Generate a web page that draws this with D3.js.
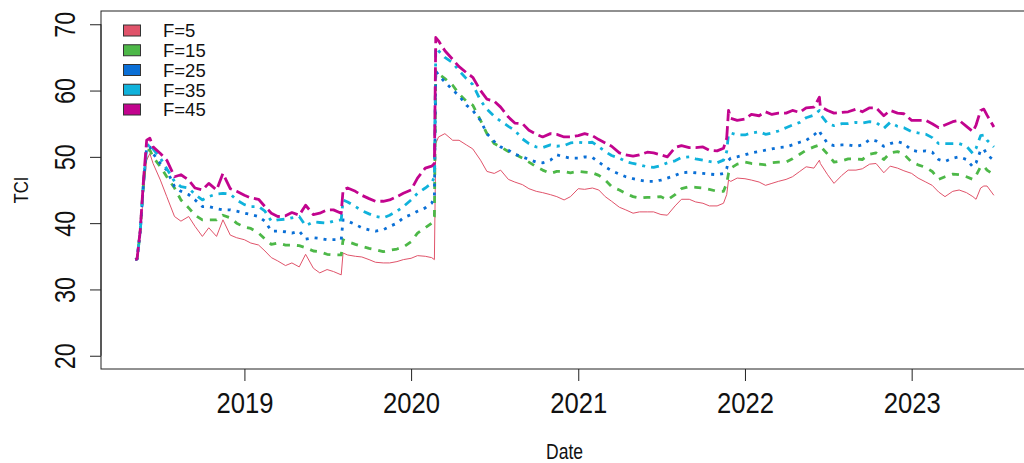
<!DOCTYPE html>
<html>
<head>
<meta charset="utf-8">
<script src="https://cdn.jsdelivr.net/npm/d3@7"></script>
<style>
  html, body { margin: 0; padding: 0; background: #fff; }
  svg { display: block; }
  text { font-family: "Liberation Sans", Arial, sans-serif; fill: #111; }
</style>
</head>
<body>
<script>
// 数据：日期（按半月采样，外加跳变日）
const dates = [
  '2018-05-07','2018-05-11','2018-05-18','2018-05-25','2018-06-01','2018-06-08','2018-06-15','2018-07-01','2018-07-15',
  '2018-08-01','2018-08-15','2018-09-01','2018-09-15','2018-10-01','2018-10-15','2018-11-01','2018-11-15','2018-12-01','2018-12-15',
  '2019-01-01','2019-01-15','2019-02-01','2019-02-15','2019-03-01','2019-03-15','2019-04-01','2019-04-15','2019-05-01','2019-05-15',
  '2019-06-01','2019-06-15','2019-07-01','2019-07-15','2019-08-01','2019-08-05','2019-08-15','2019-09-01','2019-09-15','2019-10-01',
  '2019-10-15','2019-11-01','2019-11-15','2019-12-01','2019-12-15',
  '2020-01-01','2020-01-15','2020-02-01','2020-02-15','2020-02-21','2020-02-24','2020-03-01','2020-03-15','2020-04-01','2020-04-15',
  '2020-05-01','2020-05-15','2020-06-01','2020-06-15','2020-07-01','2020-07-15','2020-08-01','2020-08-15','2020-09-01','2020-09-15',
  '2020-10-01','2020-10-15','2020-11-01','2020-11-15','2020-12-01','2020-12-15',
  '2021-01-01','2021-01-15','2021-02-01','2021-02-15','2021-03-01','2021-03-15','2021-04-01','2021-04-15','2021-05-01','2021-05-15',
  '2021-06-01','2021-06-15','2021-07-01','2021-07-15','2021-08-01','2021-08-15','2021-09-01','2021-09-15','2021-10-01','2021-10-15',
  '2021-11-01','2021-11-15','2021-11-22','2021-11-26','2021-12-01','2021-12-15',
  '2022-01-01','2022-01-15','2022-02-01','2022-02-15','2022-03-01','2022-03-15','2022-04-01','2022-04-15','2022-05-01','2022-05-15',
  '2022-06-01','2022-06-13','2022-06-15','2022-07-01','2022-07-15','2022-08-01','2022-08-15','2022-09-01','2022-09-15','2022-10-01',
  '2022-10-15','2022-11-01','2022-11-15','2022-12-01','2022-12-15',
  '2023-01-01','2023-01-15','2023-02-01','2023-02-15','2023-03-01','2023-03-15','2023-04-01','2023-04-15','2023-05-01','2023-05-15',
  '2023-05-22','2023-06-01','2023-06-08','2023-06-15','2023-06-30'
];

// 各预测期 F 的 TCI 数值
const tciF5 = [
  34.5,34.6,38.5,44.5,49.5,50.5,49.0,46.5,44.0,
  41.0,40.3,41.0,39.5,38.0,39.3,38.0,40.5,38.2,37.8,
  37.5,37.0,36.7,35.8,34.8,34.3,33.6,34.0,33.4,35.3,
  33.2,32.5,33.0,32.7,32.2,35.5,35.2,35.0,34.9,34.5,
  34.1,34.0,34.0,34.2,34.5,
  34.7,35.1,35.0,34.8,34.5,52.0,53.0,53.5,52.5,52.5,
  51.8,51.2,49.5,47.8,47.5,48.0,46.6,46.2,45.8,45.2,
  44.8,44.6,44.3,44.0,43.5,44.0,
  45.2,45.1,45.3,45.0,44.0,43.3,42.4,42.0,41.5,41.7,
  41.7,41.7,41.3,41.2,42.6,43.6,43.6,43.2,43.0,42.6,
  42.6,43.0,44.3,46.5,46.3,46.8,
  46.7,46.5,46.2,45.7,46.0,46.3,46.6,47.0,47.8,48.5,
  48.3,49.5,49.0,47.3,46.0,47.2,48.0,48.0,48.2,48.9,
  49.0,47.6,48.6,48.3,47.9,
  47.5,46.8,46.2,45.7,44.7,44.0,44.8,45.0,44.6,44.0,
  43.6,45.3,45.6,45.6,44.2
];
const tciF15 = [
  34.5,34.6,38.8,46.0,51.0,51.0,50.0,48.5,47.0,
  45.3,43.5,42.3,41.2,40.5,40.5,40.5,41.2,40.8,40.0,
  39.4,39.2,38.5,37.6,36.8,37.0,36.7,36.7,36.6,36.3,
  35.8,35.7,35.3,35.2,35.2,37.5,37.2,36.8,36.5,36.2,
  36.0,35.7,35.9,36.1,36.4,
  37.2,38.5,39.3,40.0,41.0,63.0,62.5,61.8,60.8,59.5,
  58.4,57.8,55.5,53.5,52.0,51.5,50.8,50.4,49.8,49.2,
  48.5,48.0,47.5,47.8,47.8,47.6,
  47.8,47.7,47.6,47.2,46.5,45.5,45.0,44.5,44.0,43.8,
  43.9,43.9,44.0,43.5,44.3,45.2,45.5,45.4,45.3,45.1,
  44.8,44.8,46.0,47.5,48.3,48.9,
  49.2,49.0,48.9,48.8,49.1,49.2,49.2,49.7,50.4,51.0,
  51.5,51.8,51.6,50.4,49.2,49.4,49.7,49.7,49.6,50.4,
  50.6,49.6,50.6,50.8,50.4,
  49.2,48.8,48.4,47.8,46.6,47.0,47.4,47.3,47.0,46.6,
  47.2,48.5,48.6,48.0,47.3
];
const tciF25 = [
  34.5,34.6,38.8,46.0,51.5,51.5,50.5,49.0,48.0,
  45.5,44.8,44.3,43.5,42.5,42.5,42.2,42.0,42.0,41.8,
  41.5,41.3,41.0,40.3,38.8,38.8,38.7,38.5,38.8,37.6,
  37.8,37.7,37.5,37.5,37.5,40.5,40.3,39.8,39.3,39.0,
  38.8,39.0,39.5,40.0,40.8,
  41.3,41.8,42.3,43.0,44.0,63.0,62.3,61.3,60.1,59.2,
  57.8,57.0,55.5,53.5,52.3,51.5,51.0,50.4,50.0,49.6,
  49.2,49.1,49.5,50.3,50.0,49.8,
  49.8,50.0,49.9,49.2,48.5,47.9,47.4,47.0,46.7,46.5,
  46.3,46.3,46.5,46.8,47.2,47.6,47.7,47.6,47.5,47.4,
  47.3,47.5,48.2,49.5,49.8,50.0,
  50.3,50.6,50.8,51.0,51.2,51.4,51.5,51.8,52.2,52.5,
  53.3,54.0,53.6,52.0,51.7,51.8,51.8,51.6,51.8,52.6,
  52.4,51.6,52.0,52.3,52.0,
  51.0,50.8,50.9,50.7,49.6,49.3,49.8,50.0,49.6,48.5,
  49.1,51.0,51.2,50.3,49.5
];
const tciF35 = [
  34.5,34.6,38.8,46.0,51.5,52.0,51.2,49.8,48.2,
  46.3,45.5,45.3,44.3,43.5,44.0,44.4,44.5,44.4,43.5,
  42.8,42.5,42.5,41.8,40.3,40.5,40.6,40.8,41.0,39.6,
  40.2,40.1,40.0,40.3,40.5,43.5,43.2,42.5,41.9,41.4,
  41.0,40.8,41.2,41.8,42.5,
  43.5,44.5,45.3,46.0,47.0,66.5,66.0,65.0,64.2,63.0,
  61.8,60.9,58.5,57.2,56.1,55.4,54.6,54.0,52.7,52.0,
  51.5,51.4,51.8,51.6,51.7,52.1,
  52.2,52.1,52.2,51.5,50.8,50.2,49.8,49.3,49.0,48.8,
  48.5,48.4,48.7,49.1,49.4,49.9,50.0,49.7,49.5,49.3,
  49.1,49.5,50.8,53.5,53.6,53.3,
  53.3,53.6,53.8,53.4,53.6,53.9,54.4,54.8,55.2,55.9,
  56.3,57.0,56.4,55.0,54.7,55.0,55.0,55.2,55.1,55.3,
  55.2,54.3,55.2,54.6,54.4,
  53.8,53.6,53.4,52.9,52.0,52.0,52.0,52.0,51.6,50.5,
  51.3,53.2,53.3,52.5,51.5
];
const tciF45 = [
  34.5,34.6,39.0,46.5,52.5,52.8,51.5,50.5,49.5,
  47.0,47.3,46.5,45.3,45.0,46.0,45.0,47.5,45.2,44.8,
  44.2,43.8,43.6,42.5,41.5,41.0,41.1,41.6,41.2,42.7,
  41.3,41.5,42.0,42.0,41.5,45.0,45.3,44.8,44.2,43.7,
  43.3,43.3,43.5,44.0,44.5,
  45.0,46.8,48.3,48.6,49.0,68.0,67.5,66.0,64.7,63.6,
  62.7,62.0,60.0,58.7,58.4,57.5,56.0,55.1,55.0,54.0,
  53.4,53.0,53.5,53.4,53.0,53.0,
  53.2,53.5,53.2,52.6,52.1,51.6,50.6,50.3,50.1,50.3,
  50.7,50.6,50.3,50.0,51.4,51.7,51.4,51.4,51.5,51.0,
  50.9,51.3,52.8,57.0,55.8,55.5,
  55.7,56.4,56.2,56.8,56.4,56.6,56.6,57.0,56.7,57.4,
  57.5,59.0,57.6,57.0,56.6,56.7,56.8,57.2,56.8,57.4,
  57.4,56.2,57.0,56.6,56.5,
  55.5,55.5,55.5,55.0,54.4,54.8,55.3,55.5,54.6,53.8,
  54.8,57.0,57.2,56.3,54.5
];

const seriesNames = ['F=5', 'F=15', 'F=25', 'F=35', 'F=45'];
const seriesValues = [tciF5, tciF15, tciF25, tciF35, tciF45];
const seriesColors = ['#E0536A', '#4DB848', '#0A6FD6', '#10B2DB', '#C2048E'];
const yTicks = [20, 30, 40, 50, 60, 70];
const xTickYears = [2019, 2020, 2021, 2022, 2023];

const width = 1024, height = 463;
const parse = d3.timeParse('%Y-%m-%d');
const dateObjs = dates.map(parse);

// 绘图区（仿 R 的 base 图，坐标范围两侧各扩 4%）
const plotLeft = 101, plotTop = 11, plotBottom = 369;
const pxPerDay = 166.7 / 365;
const [dMin, dMax] = d3.extent(dateObjs);
const spanDays = (dMax - dMin) / 864e5;
const padDays = spanDays * 0.04;
const xDomain = [d3.timeDay.offset(dMin, -Math.round(padDays)), d3.timeDay.offset(dMax, Math.round(padDays))];
const plotRight = plotLeft + ((xDomain[1] - xDomain[0]) / 864e5) * pxPerDay;

const x = d3.scaleTime().domain(xDomain).range([plotLeft, plotRight]);
const y = d3.scaleLinear().domain([18, 72]).range([plotBottom, plotTop]);

const svg = d3.select('body').append('svg')
  .attr('width', width)
  .attr('height', height);

svg.append('rect')
  .attr('width', width).attr('height', height)
  .attr('fill', '#fff');

// 线条样式（lty 2..5）
const dashes = [null, '7,7', '3,6', '3,6,8,6', '14,5'];
const widths = [1, 2.8, 2.8, 2.8, 2.8];

const clip = svg.append('defs').append('clipPath').attr('id', 'plot-clip');
clip.append('rect')
  .attr('x', plotLeft).attr('y', plotTop)
  .attr('width', plotRight - plotLeft).attr('height', plotBottom - plotTop);

const lineGen = d3.line()
  .x(d => x(d.date))
  .y(d => y(d.value));

const linesG = svg.append('g').attr('clip-path', 'url(#plot-clip)');
seriesValues.forEach((vals, i) => {
  const pts = dateObjs.map((dt, j) => ({ date: dt, value: vals[j] }));
  linesG.append('path')
    .datum(pts)
    .attr('fill', 'none')
    .attr('stroke', seriesColors[i])
    .attr('stroke-width', widths[i])
    .attr('stroke-linejoin', 'round')
    .attr('stroke-dasharray', dashes[i])
    .attr('d', lineGen);
});

// 边框
svg.append('rect')
  .attr('x', plotLeft).attr('y', plotTop)
  .attr('width', plotRight - plotLeft).attr('height', plotBottom - plotTop)
  .attr('fill', 'none')
  .attr('stroke', '#222')
  .attr('stroke-width', 1);

// x 轴
const xAxis = d3.axisBottom(x)
  .tickValues(xTickYears.map(yr => new Date(yr, 0, 1)))
  .tickFormat(d3.timeFormat('%Y'))
  .tickSize(12);

svg.append('g')
  .attr('transform', `translate(0,${plotBottom})`)
  .call(xAxis)
  .call(g => {
    g.select('.domain').remove();
    g.selectAll('.tick line').attr('stroke', '#222');
    g.selectAll('.tick text')
      .attr('y', 44).attr('dy', 0)
      .attr('fill', '#111')
      .attr('textLength', 57)
      .attr('lengthAdjust', 'spacingAndGlyphs')
      .style('font-size', '29px');
  });

// y 轴
const yAxis = d3.axisLeft(y)
  .tickValues(yTicks)
  .tickSize(11);

svg.append('g')
  .attr('transform', `translate(${plotLeft},0)`)
  .call(yAxis)
  .call(g => {
    g.select('.domain')
      .attr('d', `M0,${y(20)}V${y(70)}`)
      .attr('stroke', '#222');
    g.selectAll('.tick line').attr('stroke', '#222');
    g.selectAll('.tick text')
      .attr('transform', 'rotate(-90)')
      .attr('x', 0).attr('y', -26).attr('dy', 0)
      .attr('text-anchor', 'middle')
      .attr('fill', '#111')
      .attr('textLength', 26)
      .attr('lengthAdjust', 'spacingAndGlyphs')
      .style('font-size', '29px');
  });

// 坐标轴标题
svg.append('text')
  .attr('transform', `translate(28,${(plotTop + plotBottom) / 2}) rotate(-90)`)
  .attr('text-anchor', 'middle')
  .attr('textLength', 27)
  .attr('lengthAdjust', 'spacingAndGlyphs')
  .style('font-size', '20px')
  .text('TCI');

svg.append('text')
  .attr('x', (plotLeft + plotRight) / 2)
  .attr('y', 459)
  .attr('text-anchor', 'middle')
  .attr('textLength', 37)
  .attr('lengthAdjust', 'spacingAndGlyphs')
  .style('font-size', '22px')
  .text('Date');

// 图例（无边框）
const legend = svg.append('g').attr('class', 'legend');
seriesNames.forEach((name, i) => {
  const cy = 30.5 + i * 19.75;
  legend.append('rect')
    .attr('x', 123.5).attr('y', cy - 5.5)
    .attr('width', 17).attr('height', 11)
    .attr('fill', seriesColors[i])
    .attr('stroke', '#333')
    .attr('stroke-width', 1);
  legend.append('text')
    .attr('x', 163)
    .attr('y', cy + 6.8)
    .style('font-size', '18.5px')
    .text(name);
});
</script>
</body>
</html>
